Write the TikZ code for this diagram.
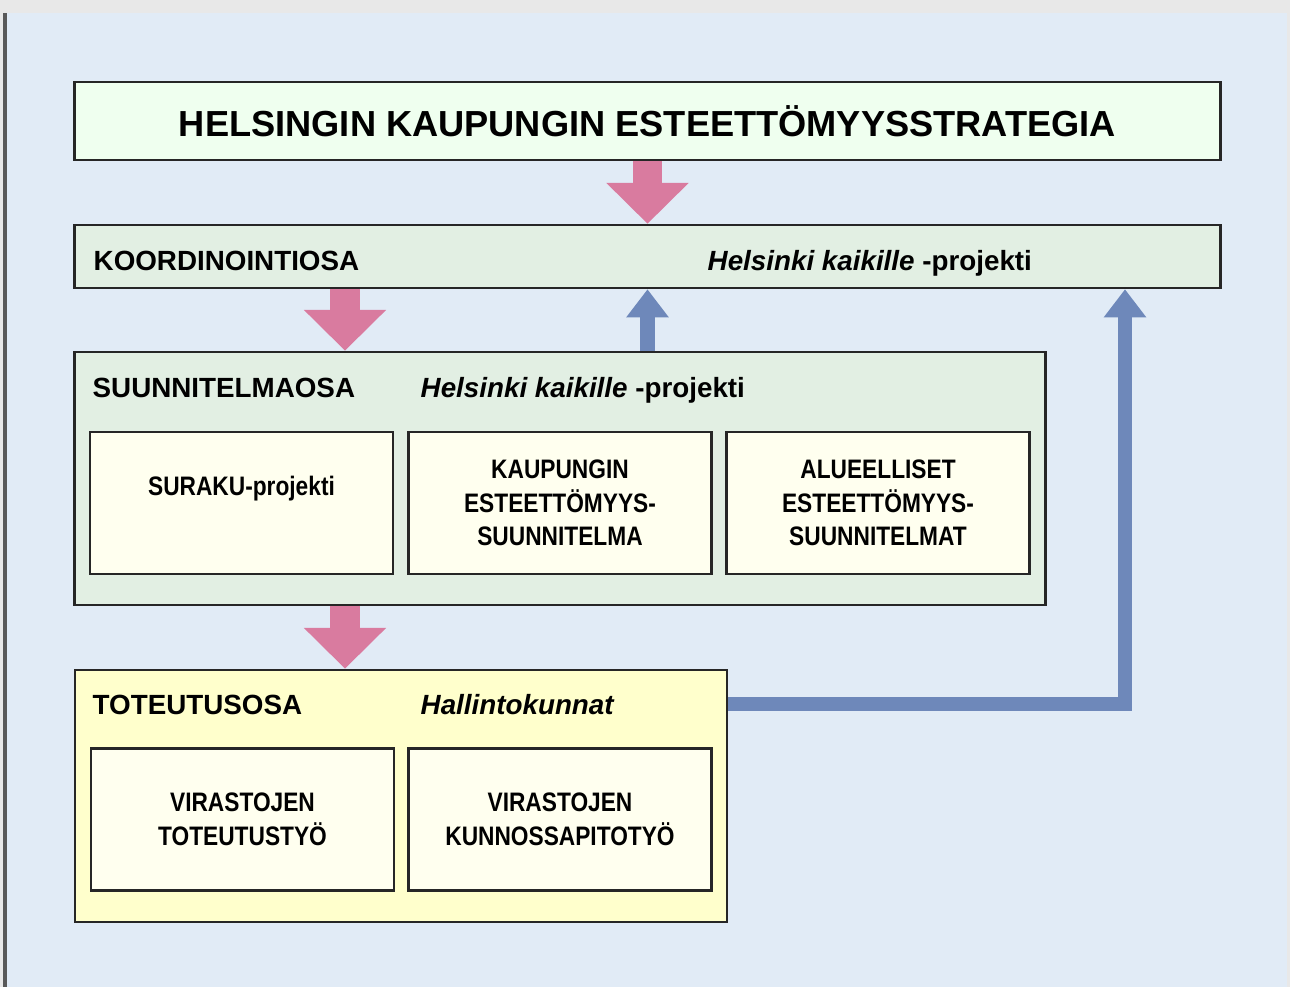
\documentclass[tikz,border=0pt]{standalone}
\usepackage{fontspec}
\setmainfont{Liberation Sans}
\newfontfamily\narrowfont[FakeStretch=0.85]{Liberation Sans}
\usetikzlibrary{arrows.meta}
\definecolor{pagebg}{HTML}{E1EBF6}
\definecolor{titlegreen}{HTML}{EFFFEF}
\definecolor{partgreen}{HTML}{E2EFE3}
\definecolor{partyellow}{HTML}{FFFFCC}
\definecolor{ivory}{HTML}{FFFFEF}
\definecolor{pinkarrow}{HTML}{D97B9F}
\definecolor{bluearrow}{HTML}{6E88BA}
\tikzstyle{frame}=[draw=black!85, line width=0.7pt]
\tikzstyle{topbox}=[frame, fill=titlegreen, minimum width=11.45cm,
                    minimum height=0.78cm, font=\bfseries\fontsize{10.3}{12}\selectfont]
\tikzstyle{part}=[frame, inner sep=0pt]
\tikzstyle{head}=[inner sep=0pt, anchor=base west,
                  font=\bfseries\fontsize{7.9}{9.5}\selectfont]
\tikzstyle{cell}=[frame, fill=ivory, minimum width=3.03cm, minimum height=1.42cm,
                  align=center, inner sep=0pt,
                  font=\narrowfont\bfseries\fontsize{7.6}{9.6}\selectfont]
\tikzstyle{pinkarr}=[draw=pinkarrow, line width=8.5pt,
                     -{Triangle[width=22.7pt,length=11.6pt]}]
\tikzstyle{bluearr}=[draw=bluearrow, line width=4pt,
                     -{Triangle[width=11.6pt,length=8pt]}]

\begin{document}
\begin{tikzpicture}[x=0.01cm, y=-0.01cm]
    \useasboundingbox (0,0) rectangle (1290,987);
    \fill[black!9] (0,0) rectangle (1290,987);
    \fill[pagebg] (7,13) rectangle (1287,987);
    \draw[black!65, line width=1.1pt] (5,13) -- (5,987);
    \node[topbox] (title) at (647.5,121) {HELSINGIN KAUPUNGIN ESTEETT\"OMYYSSTRATEGIA};
    \node[part, fill=partgreen, minimum width=11.45cm, minimum height=0.63cm]
      (koord) at (647.5,256.5) {};
    \node[part, fill=partgreen, minimum width=9.70cm, minimum height=2.53cm]
      (suun) at (560,478.5) {};
    \node[part, fill=partyellow, minimum width=6.52cm, minimum height=2.52cm]
      (tot) at (401,796) {};
    \node[head] (koordhead) at (93,270) {KOORDINOINTIOSA};
    \node[head] (koordproj) at (707,270) {\textit{Helsinki kaikille} -projekti};
    \node[head] (suunhead) at (92,397) {SUUNNITELMAOSA};
    \node[head] (suunproj) at (420,397) {\textit{Helsinki kaikille} -projekti};
    \node[head] (tothead) at (92,714) {TOTEUTUSOSA};
    \node[head] (totwho) at (420,714) {\textit{Hallintokunnat}};
    \node[cell] (suraku) at (241.5,503) {SURAKU-projekti\\\mbox{}};
    \node[cell] (kaup) at (560,503) {KAUPUNGIN\\ESTEETT\"OMYYS-\\SUUNNITELMA};
    \node[cell] (alue) at (878,503) {ALUEELLISET\\ESTEETT\"OMYYS-\\SUUNNITELMAT};
    \node[cell] (totwork) at (242.5,819.5) {VIRASTOJEN\\TOTEUTUSTY\"O};
    \node[cell] (maint) at (560,819.5) {VIRASTOJEN\\KUNNOSSAPITOTY\"O};
    \coordinate (ax) at (345,0);
    \coordinate (back) at (1125,0);
    \draw[pinkarr] (title.south) -- (koord.north);
    \draw[pinkarr] (koord.south -| ax) -- (suun.north -| ax);
    \draw[pinkarr] (suun.south -| ax) -- (tot.north -| ax);
    \draw[bluearr] (suun.north -| koord.south) -- (koord.south);
    \draw[bluearr] (tothead -| tot.east) -| (koord.south -| back);
\end{tikzpicture}
\end{document}
